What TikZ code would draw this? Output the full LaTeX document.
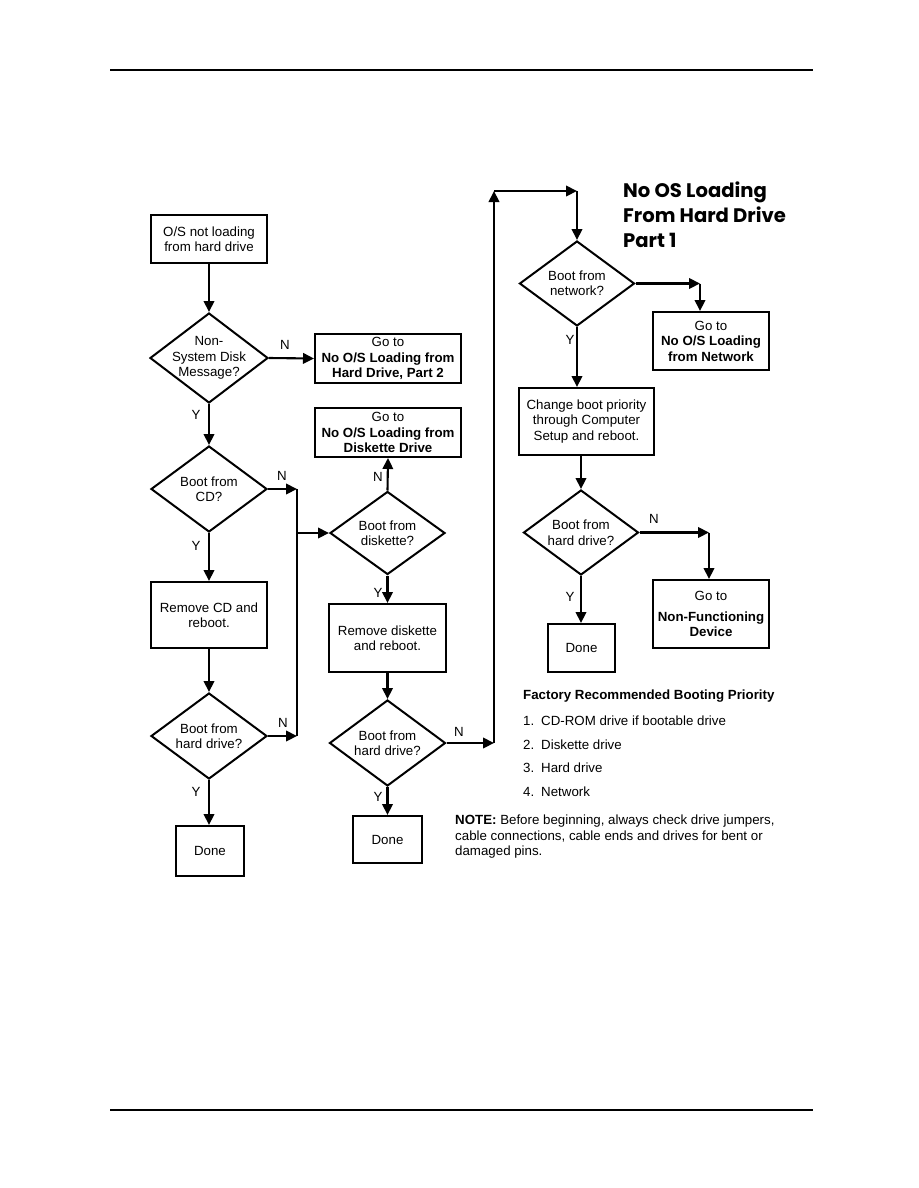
\documentclass[tikz,border=0pt]{standalone}
\usepackage{fontspec}
\setmainfont{Liberation Sans}
\newfontfamily\titlefont{Poppins}
\usetikzlibrary{shapes.geometric,arrows.meta}
\newcommand\myfs{\fontsize{13.3}{15.5}\selectfont}
\tikzset{
  every node/.style={font=\myfs},
  box/.style={draw,line width=2pt,inner sep=0pt,align=center},
  dia/.style={draw,diamond,line width=2pt,inner sep=0pt},
  lbl/.style={inner sep=0pt},
  conn/.style={line width=2.1pt},
  arr/.style={line width=2.1pt,-{Triangle[length=11pt,width=10.5pt]}},
}
\begin{document}
\begin{tikzpicture}[x=1pt,y=-1pt]
\useasboundingbox (0,0) rectangle (918,1188);
% page rules
\draw[line width=1.3pt] (110,70) -- (813,70);
\draw[line width=1.3pt] (110,1110) -- (813,1110);

% title
\node[anchor=north west,align=left,inner sep=0pt,font=\titlefont\bfseries\fontsize{19.6}{25}\selectfont] (title) at (623,182) {No OS Loading\\From Hard Drive\\Part 1};

% column 1
\node[box,minimum width=116pt,minimum height=48pt] (b1) at (209,239) {O/S not loading\\from hard drive};
\node[dia,minimum width=118pt,minimum height=90pt] (d1) at (209,358) {};
\node[align=center,lbl] (t1) at (d1) {Non-\\System Disk\\Message?};
\node[box,minimum width=146pt,minimum height=49pt] (b2) at (388,358.5) {Go to\\\textbf{No O/S Loading from}\\\textbf{Hard Drive, Part 2}};
\node[dia,minimum width=116pt,minimum height=86pt] (d2) at (209,489) {};
\node[align=center,lbl] (t2) at (d2) {Boot from\\CD?};
\node[box,minimum width=116pt,minimum height=66pt] (r1) at (209,615) {Remove CD and\\reboot.};
\node[dia,minimum width=116pt,minimum height=86pt] (d3) at (209,736) {};
\node[align=center,lbl] (t3) at (d3) {Boot from\\hard drive?};
\node[box,minimum width=68pt,minimum height=50pt] (done1) at (210,851) {Done};

% column 2
\node[box,minimum width=146pt,minimum height=49pt] (b3) at (388,432.5) {Go to\\\textbf{No O/S Loading from}\\\textbf{Diskette Drive}};
\node[dia,minimum width=115pt,minimum height=83pt] (d4) at (387.5,533) {};
\node[align=center,lbl] (t4) at (d4) {Boot from\\diskette?};
\node[box,minimum width=117pt,minimum height=68pt] (r2) at (387.5,638) {Remove diskette\\and reboot.};
\node[dia,minimum width=116pt,minimum height=86pt] (d5) at (387.5,743) {};
\node[align=center,lbl] (t5) at (d5) {Boot from\\hard drive?};
\node[box,minimum width=69pt,minimum height=47pt] (done2) at (387.5,839.5) {Done};

% column 3
\node[dia,minimum width=115pt,minimum height=85pt] (d6) at (577,283.5) {};
\node[align=center,lbl] (t6) at (d6) {Boot from\\network?};
\node[box,minimum width=116pt,minimum height=58pt] (b4) at (711,341) {Go to\\\textbf{No O/S Loading}\\\textbf{from Network}};
\node[box,minimum width=135pt,minimum height=67pt] (r3) at (586.5,421.5) {Change boot priority\\through Computer\\Setup and reboot.};
\node[dia,minimum width=115pt,minimum height=85pt] (d7) at (581,532.5) {};
\node[align=center,lbl] (t7) at (d7) {Boot from\\hard drive?};
\node[box,minimum width=116pt,minimum height=68pt] (b5) at (711,614) {Go to\\[5pt]\textbf{Non-Functioning}\\\textbf{Device}};
\node[box,minimum width=67pt,minimum height=48pt] (done3) at (581.5,648) {Done};

% junction coordinates
\coordinate (j1) at (297,489);
\coordinate (j2) at (297,736);
\coordinate (j3) at (297,533);
\coordinate (j4) at (494,743);
\coordinate (j5) at (494,191);
\coordinate (j6) at (577,191);
\coordinate (j7) at (700,283.5);
\coordinate (j8) at (709,532.5);

% connectors column 1
\draw[arr] (b1.south) -- (d1.north);
\draw[arr] (d1.east) -- (b2.west);
\draw[arr] (d1.south) -- (d2.north);
\draw[arr] (d2.east) -- (j1);
\draw[conn] (j1) -- (j2);
\draw[arr] (j3) -- (d4.west);
\draw[arr] (d2.south) -- (r1.north);
\draw[arr] (r1.south) -- (d3.north);
\draw[arr] (d3.east) -- (j2);
\draw[arr] (d3.south) -- (d3.south |- done1.north);

% connectors column 2
\draw[arr] (d4.north) -- (b3.south);
\draw[arr] (d4.south) -- (r2.north);
\draw[arr] (r2.south) -- (d5.north);
\draw[arr] (d5.east) -- (j4);
\draw[arr] (j4) -- (j5);
\draw[arr] (j5) -- (j6);
\draw[arr] (j6) -- (d6.north);
\draw[arr] (d5.south) -- (done2.north);

% connectors column 3
\draw[arr] (d6.east) -- (j7);
\draw[arr] (j7) -- (j7 |- b4.north);
\draw[arr] (d6.south) -- (d6.south |- r3.north);
\draw[arr] (r3.south -| d7.north) -- (d7.north);
\draw[arr] (d7.east) -- (j8);
\draw[arr] (j8) -- (j8 |- b5.north);
\draw[arr] (d7.south) -- (d7.south |- done3.north);

% Y/N labels
\node[lbl] (n1) at (285,345) {N};
\node[lbl] (y1) at (196,415) {Y};
\node[lbl] (n2) at (282,476) {N};
\node[lbl] (y2) at (196,546) {Y};
\node[lbl] (n3) at (283,723) {N};
\node[lbl] (y3) at (196,792) {Y};
\node[lbl] (n4) at (378,477) {N};
\node[lbl] (y4) at (378,593) {Y};
\node[lbl] (n5) at (459,732) {N};
\node[lbl] (y5) at (378,797) {Y};
\node[lbl] (y6) at (570,340) {Y};
\node[lbl] (n7) at (654,519) {N};
\node[lbl] (y7) at (570,597) {Y};

% notes
\node[anchor=west,lbl,font=\myfs\bfseries] (fr) at (523,696) {Factory Recommended Booting Priority};
\node[anchor=west,lbl] (i1n) at (523,721) {1.};
\node[anchor=west,lbl] (i1) at (541,721) {CD-ROM drive if bootable drive};
\node[anchor=west,lbl] (i2n) at (523,744.5) {2.};
\node[anchor=west,lbl] (i2) at (541,744.5) {Diskette drive};
\node[anchor=west,lbl] (i3n) at (523,768) {3.};
\node[anchor=west,lbl] (i3) at (541,768) {Hard drive};
\node[anchor=west,lbl] (i4n) at (523,792) {4.};
\node[anchor=west,lbl] (i4) at (541,792) {Network};
\node[anchor=north west,align=left,lbl] (note) at (455,815) {\textbf{NOTE:} Before beginning, always check drive jumpers,\\cable connections, cable ends and drives for bent or\\damaged pins.};
\end{tikzpicture}
\end{document}
